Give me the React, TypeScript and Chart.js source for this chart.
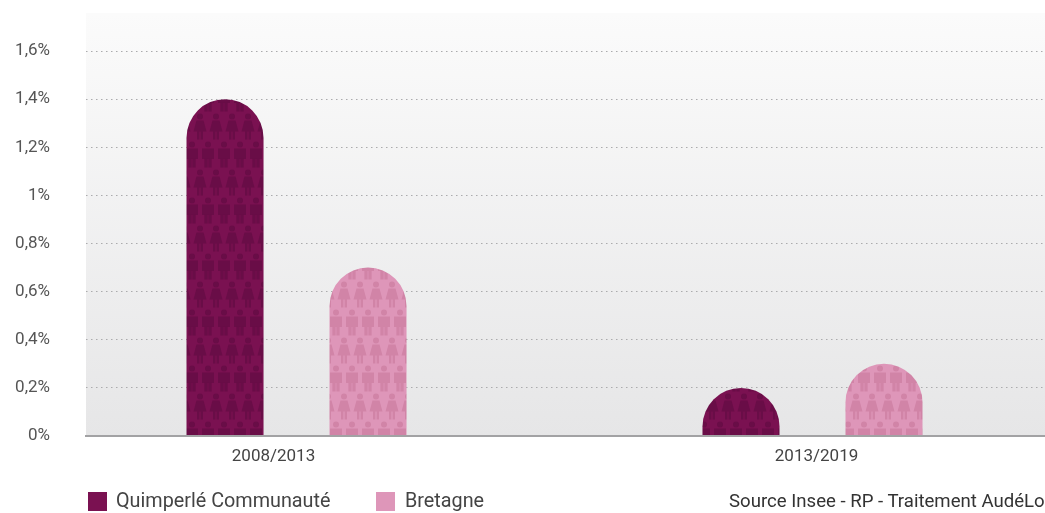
import React, { useEffect, useRef } from 'react';
import { Chart, registerables, BarElement } from 'chart.js';

Chart.register(...registerables);

const CATEGORIES = ['2008/2013', '2013/2019'];
const QUIMPERLE = [1.4, 0.2];
const BRETAGNE = [0.7, 0.3];
const Y_TICKS = [0, 0.2, 0.4, 0.6, 0.8, 1, 1.2, 1.4, 1.6];
const SERIES_NAMES = ['Quimperlé Communauté', 'Bretagne'];
const SOURCE = 'Source Insee - RP - Traitement AudéLor';

const DARK = '#7a1151';
const DARK_FIG = '#690d47';
const PINK = '#de96b9';
const PINK_FIG = '#d184a7';
const FONT = 'Roboto, "DejaVu Sans", sans-serif';

// Bars with a fully rounded (half-disc) top, radius = half the bar width
(BarElement.prototype as any).draw = function (ctx: CanvasRenderingContext2D) {
  const { x, y, base, width } = (this as any).getProps(['x', 'y', 'base', 'width']);
  const h = base - y;
  if (!(h > 0)) return;
  const half = width / 2;
  const left = x - half;
  ctx.save();
  ctx.fillStyle = (this as any).options.backgroundColor;
  ctx.beginPath();
  ctx.moveTo(left, base);
  if (h >= half) {
    ctx.lineTo(left, y + half);
    ctx.arc(x, y + half, half, Math.PI, 0);
  } else {
    ctx.ellipse(x, base, half, h, 0, Math.PI, 0);
  }
  ctx.lineTo(left + width, base);
  ctx.closePath();
  ctx.fill();
  ctx.restore();
};

function makePattern(ctx: CanvasRenderingContext2D, base: string, fig: string) {
  const tile = document.createElement('canvas');
  tile.width = 16;
  tile.height = 56;
  const t = tile.getContext('2d')!;
  t.fillStyle = base;
  t.fillRect(0, 0, 16, 56);
  t.fillStyle = fig;
  // woman
  const wx = 8;
  const wy = 1;
  t.beginPath();
  t.arc(wx, wy + 3.5, 3, 0, Math.PI * 2);
  t.fill();
  t.beginPath();
  t.moveTo(wx - 3.5, wy + 7.5);
  t.lineTo(wx + 3.5, wy + 7.5);
  t.lineTo(wx + 6.5, wy + 18.5);
  t.lineTo(wx - 6.5, wy + 18.5);
  t.closePath();
  t.fill();
  t.fillRect(wx - 3, wy + 18, 2.4, 8.5);
  t.fillRect(wx + 0.6, wy + 18, 2.4, 8.5);
  // man (drawn at both edges to wrap)
  for (const mx of [0, 16]) {
    const my = 29;
    t.beginPath();
    t.arc(mx, my + 3.5, 3, 0, Math.PI * 2);
    t.fill();
    t.fillRect(mx - 6, my + 7.5, 12, 10.5);
    t.fillRect(mx - 3.6, my + 17.5, 3.2, 9);
    t.fillRect(mx + 0.4, my + 17.5, 3.2, 9);
  }
  return ctx.createPattern(tile, 'repeat')!;
}

const bgPlugin = {
  id: 'plotBg',
  beforeDraw(chart: any) {
    const { ctx, chartArea } = chart;
    if (!chartArea) return;
    const g = ctx.createLinearGradient(0, chartArea.top, 0, chartArea.bottom);
    g.addColorStop(0, '#fbfbfb');
    g.addColorStop(1, '#e6e6e7');
    ctx.save();
    ctx.fillStyle = g;
    ctx.fillRect(chartArea.left, chartArea.top, chartArea.right - chartArea.left, chartArea.bottom - chartArea.top);
    ctx.restore();
  },
};

function fmtPct(v: number) {
  const r = Math.round(v * 10) / 10;
  return String(r).replace('.', ',') + '%';
}

export default function App() {
  const ref = useRef<HTMLCanvasElement>(null);

  useEffect(() => {
    document.body.style.margin = '0';
    document.body.style.overflow = 'hidden';
    const canvas = ref.current!;
    const ctx = canvas.getContext('2d')!;
    const darkPat = makePattern(ctx, DARK, DARK_FIG);
    const pinkPat = makePattern(ctx, PINK, PINK_FIG);
    // label offsets relative to group centres (in category units)
    const LABEL_SHIFT = [-0.0446, 0.0078];

    const chart = new Chart(canvas, {
      type: 'bar',
      data: {
        datasets: [
          {
            label: SERIES_NAMES[0],
            data: QUIMPERLE.map((v, i) => ({ x: i, y: v })),
            backgroundColor: darkPat as any,
            borderSkipped: false,
            categoryPercentage: 0.5543,
            barPercentage: 0.5385,
          },
          {
            label: SERIES_NAMES[1],
            data: BRETAGNE.map((v, i) => ({ x: i, y: v })),
            backgroundColor: pinkPat as any,
            borderSkipped: false,
            categoryPercentage: 0.5543,
            barPercentage: 0.5385,
          },
        ],
      },
      options: {
        responsive: false,
        animation: false,
        layout: { padding: { top: 13, bottom: 48, left: 0, right: 0 } },
        plugins: {
          legend: { display: false },
          tooltip: { enabled: false },
        },
        scales: {
          x: {
            type: 'linear',
            offset: false,
            min: -0.408,
            max: 1.4506,
            afterBuildTicks: (scale: any) => {
              scale.ticks = CATEGORIES.map((_, i) => ({ value: i + LABEL_SHIFT[i] }));
            },
            afterFit: (scale: any) => {
              scale.height = 29;
              scale.paddingLeft = 0;
              scale.paddingRight = 0;
            },
            grid: { display: false, drawTicks: false, offset: false },
            border: { display: true, color: '#a2a2a4', width: 2, z: 1 },
            ticks: {
              autoSkip: false,
              maxRotation: 0,
              padding: 11,
              color: '#444',
              font: { family: FONT, size: 17 },
              callback: (_v: any, i: number) => CATEGORIES[i],
            },
          },
          y: {
            type: 'linear',
            min: 0,
            max: 1.758,
            afterBuildTicks: (scale: any) => {
              scale.ticks = Y_TICKS.map((v) => ({ value: v }));
            },
            afterFit: (scale: any) => {
              scale.width = 86;
              scale.paddingTop = 0;
              scale.paddingBottom = 0;
            },
            grid: {
              drawTicks: false,
              lineWidth: 1,
              color: (c: any) => (c.tick && c.tick.value === 0 ? 'rgba(0,0,0,0)' : '#ababad'),
            },
            border: { display: false, dash: [1.5, 3.5] },
            ticks: {
              padding: 36,
              color: '#555',
              font: { family: FONT, size: 17 },
              callback: (v: any) => fmtPct(Number(v)),
            },
          },
        },
      },
      plugins: [bgPlugin],
    });
    return () => chart.destroy();
  }, []);

  const legendText: React.CSSProperties = {
    position: 'absolute',
    top: 488,
    fontFamily: FONT,
    fontSize: 19.8,
    color: '#444',
    lineHeight: '26px',
    whiteSpace: 'nowrap',
  };

  return (
    <div style={{ position: 'absolute', left: 0, top: 0, width: 1045, height: 513, overflow: 'hidden', background: '#fff' }}>
      <canvas ref={ref} width={1045} height={513} style={{ display: 'block' }} />
      <div style={{ position: 'absolute', left: 88, top: 492, width: 19, height: 19, background: DARK }} />
      <div style={{ ...legendText, left: 116 }}>{SERIES_NAMES[0]}</div>
      <div style={{ position: 'absolute', left: 376, top: 492, width: 19, height: 19, background: PINK }} />
      <div style={{ ...legendText, left: 405 }}>{SERIES_NAMES[1]}</div>
      <div style={{ ...legendText, left: 729, fontSize: 18.6, color: '#333' }}>{SOURCE}</div>
    </div>
  );
}
